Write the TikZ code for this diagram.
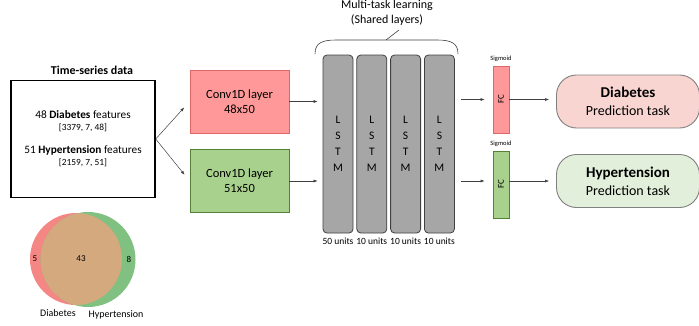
\documentclass[tikz,border=0pt]{standalone}
\usepackage{fontspec}
\setmainfont{Carlito}
\usepackage{xcolor}
\usetikzlibrary{arrows.meta,positioning,calc}
\definecolor{ConvRed}{HTML}{FF9999}
\definecolor{ConvRedLine}{HTML}{E06666}
\definecolor{ConvGreen}{HTML}{A9D18E}
\definecolor{ConvGreenLine}{HTML}{538135}
\definecolor{TaskRed}{HTML}{F9D5D2}
\definecolor{TaskGreen}{HTML}{E2EFDA}
\definecolor{TaskLine}{HTML}{808080}
\definecolor{LstmGray}{HTML}{A6A6A6}
\definecolor{LstmLine}{HTML}{404040}
\definecolor{VennRed}{HTML}{F48683}
\definecolor{VennGreen}{HTML}{80C080}
\definecolor{VennBoth}{HTML}{D5A97E}
\definecolor{ArrowGray}{HTML}{404040}
\tikzset{
  databox/.style={draw=black, line width=1.4pt, fill=white, minimum width=144pt, minimum height=117pt, align=center, inner sep=2pt},
  redconv/.style={draw=ConvRedLine, fill=ConvRed, line width=0.8pt, minimum width=99pt, minimum height=63pt, align=center, font=\fontsize{12.5}{15}\selectfont},
  greenconv/.style={draw=ConvGreenLine, fill=ConvGreen, line width=0.8pt, minimum width=99pt, minimum height=63pt, align=center, font=\fontsize{12.5}{15}\selectfont},
  lstmbox/.style={draw=LstmLine, fill=LstmGray, rounded corners=4pt, line width=0.8pt, minimum width=30pt, minimum height=178pt, inner sep=0pt, align=center, font=\fontsize{11.5}{16}\selectfont},
  unitlabel/.style={font=\fontsize{9.5}{11}\selectfont, inner sep=1pt},
  redfc/.style={draw=ConvRedLine, fill=ConvRed, line width=0.8pt, minimum width=16pt, minimum height=67pt, inner sep=0pt},
  greenfc/.style={draw=ConvGreenLine, fill=ConvGreen, line width=0.8pt, minimum width=16pt, minimum height=67pt, inner sep=0pt},
  fclabel/.style={rotate=90, font=\fontsize{9}{10}\selectfont, inner sep=0pt},
  siglabel/.style={font=\fontsize{6.5}{7}\selectfont, inner sep=1pt},
  redtask/.style={draw=TaskLine, fill=TaskRed, line width=0.9pt, rounded corners=20pt, minimum width=143pt, minimum height=53pt, align=center, font=\fontsize{14}{18}\selectfont},
  greentask/.style={draw=TaskLine, fill=TaskGreen, line width=0.9pt, rounded corners=20pt, minimum width=143pt, minimum height=53pt, align=center, font=\fontsize{14}{18}\selectfont},
  arrow/.style={-{Latex[length=4pt,width=3pt]}, line width=0.5pt, draw=ArrowGray}
}
\begin{document}
\begin{tikzpicture}[x=1pt, y=-1pt, node distance=3pt]
\useasboundingbox (0,0) rectangle (699,325);
% input data
\node[font=\fontsize{12}{14}\selectfont\bfseries] (title) at (92,70) {Time-series data};
\node[databox] (data) at (83,139) {\fontsize{11.3}{14}\selectfont 48 \textbf{Diabetes} features\\[0pt]
  {\fontsize{9.4}{11}\selectfont [3379, 7, 48]}\\[11pt]
  \fontsize{11.3}{14}\selectfont 51 \textbf{Hypertension} features\\[0pt]
  {\fontsize{9.4}{11}\selectfont [2159, 7, 51]}};
% conv layers
\node[redconv] (convA) at (239.5,101.5) {Conv1D layer\\48x50};
\node[greenconv] (convB) at (239.5,181) {Conv1D layer\\51x50};
% shared LSTM layers
\node[lstmbox] (lstm1) at (338,144) {L\\S\\T\\M};
\node[lstmbox, right=of lstm1] (lstm2) {L\\S\\T\\M};
\node[lstmbox, right=of lstm2] (lstm3) {L\\S\\T\\M};
\node[lstmbox, right=of lstm3] (lstm4) {L\\S\\T\\M};
\node[unitlabel, below=of lstm1] (unit1) {50 units};
\node[unitlabel, below=of lstm2] (unit2) {10 units};
\node[unitlabel, below=of lstm3] (unit3) {10 units};
\node[unitlabel, below=of lstm4] (unit4) {10 units};
\node[align=center, font=\fontsize{12}{14.5}\selectfont] (shared) at (387,13) {Multi-task learning\\(Shared layers)};
\draw[line width=0.6pt, draw=ArrowGray] (315,54) .. controls (315,43) and (322,40) .. (336,40) -- (437,40) .. controls (451,40) and (458,43) .. (458,54);
\draw[line width=0.6pt, draw=ArrowGray] (386,40) -- (399,30);
% output heads
\node[redfc] (fcA) at (501,99.5) {};
\node[fclabel] (fcAtext) at (fcA) {FC};
\node[greenfc] (fcB) at (501,184.5) {};
\node[fclabel] (fcBtext) at (fcB) {FC};
\node[siglabel, above=of fcA] (sigA) {Sigmoid};
\node[siglabel, above=of fcB] (sigB) {Sigmoid};
\node[redtask] (taskA) at (628,101.5) {{\fontsize{15}{18}\selectfont\textbf{Diabetes}}\\Prediction task};
\node[greentask] (taskB) at (628,181) {{\fontsize{15}{18}\selectfont\textbf{Hypertension}}\\Prediction task};
% connectors
\draw[arrow, shorten >=8pt] (data.east) -- (convA.west);
\draw[arrow, shorten >=8pt] (data.east) -- (convB.west);
\draw[arrow, shorten >=5pt] (convA.east) -- (convA.east -| lstm1.west);
\draw[arrow, shorten >=5pt] (convB.east) -- (convB.east -| lstm1.west);
\draw[arrow, shorten <=6pt, shorten >=8pt] (lstm4.east |- fcA.west) -- (fcA.west);
\draw[arrow, shorten <=6pt, shorten >=8pt] (lstm4.east |- convB.east) -- (convB.east -| fcB.west);
\draw[arrow, shorten >=7pt] (fcA.east) -- (fcA.east -| taskA.west);
\draw[arrow, shorten >=7pt] (convB.east -| fcB.east) -- (convB.east -| taskB.west);
% venn diagram
\fill[VennRed] (76,259) circle[radius=46pt];
\fill[VennGreen] (88,259.5) circle[radius=47.5pt];
\begin{scope}
  \clip (76,259) circle[radius=46pt];
  \fill[VennBoth] (88,259.5) circle[radius=47.5pt];
\end{scope}
\node[font=\fontsize{9}{10}\selectfont] (onlyA) at (35,259) {5};
\node[font=\fontsize{9}{10}\selectfont] (both) at (81,259) {43};
\node[font=\fontsize{9}{10}\selectfont] (onlyB) at (129,259) {8};
\node[font=\fontsize{10}{11}\selectfont] (vennA) at (58,313) {Diabetes};
\node[font=\fontsize{10}{11}\selectfont] (vennB) at (116,315) {Hypertension};
\end{tikzpicture}
\end{document}
